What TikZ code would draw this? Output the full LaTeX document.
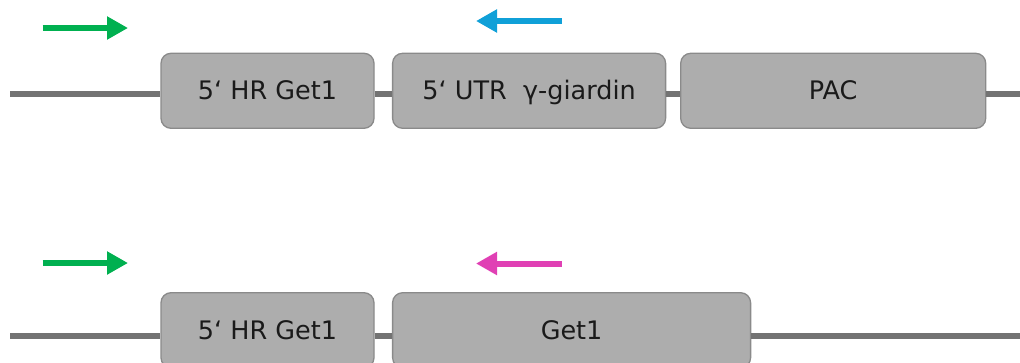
\documentclass[tikz,border=0pt]{standalone}
\usepackage{fontspec}
\setmainfont{DejaVu Sans}
\usetikzlibrary{arrows.meta}

\definecolor{boxfill}{HTML}{ADADAD}
\definecolor{boxline}{HTML}{8A8A8A}
\definecolor{dnaline}{HTML}{737373}
\definecolor{fwdgreen}{HTML}{00B050}
\definecolor{revblue}{HTML}{10A0D8}
\definecolor{revpink}{HTML}{E040B4}
\definecolor{labeltext}{HTML}{1A1A1A}

\tikzset{
  gene/.style={draw=boxline, line width=1.3pt, fill=boxfill, rounded corners=10pt,
    minimum height=75pt, inner sep=0pt, text=labeltext,
    text height=18.3pt, text depth=0pt,
    font=\fontsize{25.5}{30}\selectfont},
  dna/.style={draw=dnaline, line width=5.8pt},
  primer/.style={line width=6pt, -{Triangle[length=21pt,width=22pt]}}
}

\begin{document}
\begin{tikzpicture}[x=1pt,y=-1pt]
  \useasboundingbox (0,0) rectangle (1020,362);
  \clip (0,0) rectangle (1020,362);

  % construct with 5' UTR gamma-giardin and PAC
  \node[gene, minimum width=213pt] (a1) at (267.5,90.8) {5‘ HR Get1};
  \node[gene, minimum width=273pt] (a2) at (529.1,90.8) {5‘ UTR\ \ γ-giardin};
  \node[gene, minimum width=305pt] (a3) at (833.2,90.8) {PAC};
  \coordinate (aL) at (10,94);
  \coordinate (aR) at (1020,94);
  \draw[dna] (aL) -- (aL -| a1.west);
  \draw[dna] (a1.east |- aL) -- (a2.west |- aL);
  \draw[dna] (a2.east |- aL) -- (a3.west |- aL);
  \draw[dna] (a3.east |- aL) -- (aR);

  % primers above the upper construct
  \coordinate (pa1s) at (42.7,28);
  \coordinate (pa1e) at (128,28);
  \coordinate (pa2s) at (561.5,21);
  \coordinate (pa2e) at (476,21);
  \draw[primer, fwdgreen] (pa1s) -- (pa1e);
  \draw[primer, revblue] (pa2s) -- (pa2e);

  % wild-type locus with Get1
  \node[gene, minimum width=213pt] (b1) at (267.5,330.2) {5‘ HR Get1};
  \node[gene, minimum width=358pt] (b2) at (571.6,330.2) {Get1};
  \coordinate (bL) at (10,336);
  \coordinate (bR) at (1020,336);
  \draw[dna] (bL) -- (bL -| b1.west);
  \draw[dna] (b1.east |- bL) -- (b2.west |- bL);
  \draw[dna] (b2.east |- bL) -- (bR);

  % primers above the lower locus
  \coordinate (pb1s) at (42.7,263);
  \coordinate (pb1e) at (128,263);
  \coordinate (pb2s) at (561.5,263.5);
  \coordinate (pb2e) at (476,263.5);
  \draw[primer, fwdgreen] (pb1s) -- (pb1e);
  \draw[primer, revpink] (pb2s) -- (pb2e);
\end{tikzpicture}
\end{document}
